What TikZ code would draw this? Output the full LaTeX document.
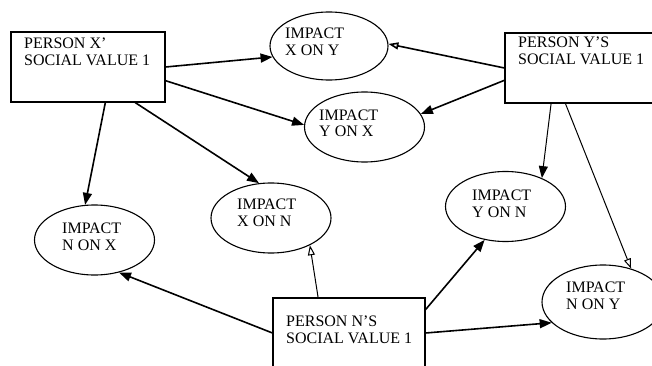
\documentclass[tikz,border=0pt]{standalone}
\usepackage{fontspec}
\setmainfont{Liberation Serif}
\usetikzlibrary{shapes.geometric, arrows.meta}

\begin{document}
\begin{tikzpicture}[x=1pt, y=-1pt,
    valbox/.style={draw, line width=1.1pt, minimum width=154pt, minimum height=70pt, inner sep=0pt},
    impact/.style={draw, ellipse, line width=1.1pt, minimum width=120pt, minimum height=70pt, inner sep=0pt},
    lbl/.style={anchor=base west, align=left, inner sep=0pt, font=\fontsize{16}{17}\selectfont},
    link/.style={line width=1.6pt, -{Triangle[length=12pt, width=9pt]}},
    thinlink/.style={line width=1pt, -{Triangle[open, length=10pt, width=7pt, fill=white]}}]
  \useasboundingbox (0,0) rectangle (652,366);
  % value boxes
  \node[valbox] (px) at (88,67) {};
  \node[valbox] (py) at (582,68) {};
  \node[valbox, minimum width=152pt] (pn) at (349,333) {};
  \node[lbl] (pxtext) at (24,66) {PERSON X'\\SOCIAL VALUE 1};
  \node[lbl] (pytext) at (518,65) {PERSON Y'S\\SOCIAL VALUE 1};
  \node[lbl] (pntext) at (286,343) {PERSON N'S\\SOCIAL VALUE 1};
  % impacts
  \node[impact, minimum width=118pt, minimum height=68pt] (xoy) at (329,46) {};
  \node[impact] (yox) at (364.5,127) {};
  \node[impact] (nox) at (94.5,240) {};
  \node[impact] (xon) at (271,218) {};
  \node[impact] (yon) at (505.5,206.5) {};
  \node[impact, minimum width=122pt, minimum height=74pt] (noy) at (603,302) {};
  \node[lbl] (xoytext) at (285,56) {IMPACT\\X ON Y};
  \node[lbl] (yoxtext) at (319,137) {IMPACT\\Y ON X};
  \node[lbl] (noxtext) at (62,250) {IMPACT\\N ON X};
  \node[lbl] (xontext) at (237,226) {IMPACT\\X ON N};
  \node[lbl] (yontext) at (472,217) {IMPACT\\Y ON N};
  \node[lbl] (noytext) at (566,309) {IMPACT\\N ON Y};
  % links
  \draw[link] (px.east) -- (xoy.191);
  \draw[link] (px.-10) -- (yox.178);
  \draw[link] (px.-64) -- (nox.105);
  \draw[link] (px.-37) -- (xon.109);
  \draw[thinlink, line width=1.6pt] (py.west) -- (xoy.2);
  \draw[link] (py.189) -- (yox.13);
  \draw[link, line width=1pt] (py.-131) -- (yon.38);
  \draw[thinlink] (py.-115) -- (noy.50);
  \draw[link] (pn.west) -- (nox.-53);
  \draw[thinlink] (pn.131) -- (xon.-35);
  \draw[link] (pn.17.5) -- (yon.-122);
  \draw[link] (pn.east) -- (noy.-158);
\end{tikzpicture}
\end{document}
